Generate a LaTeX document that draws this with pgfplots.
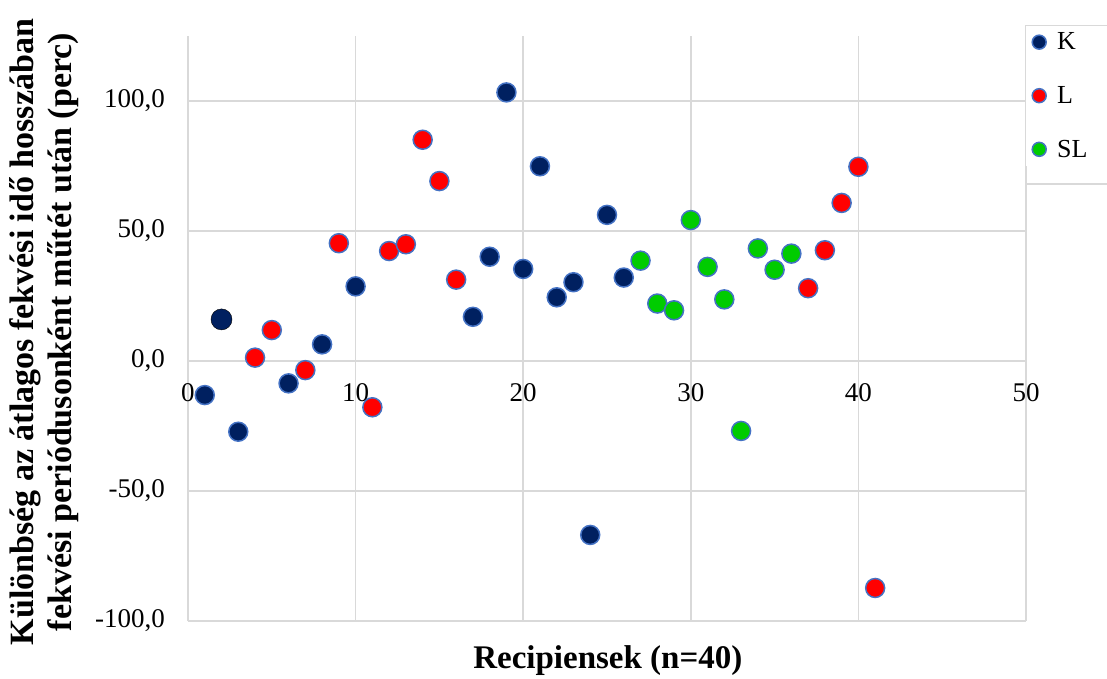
\documentclass[border=0pt]{standalone}
\usepackage{fontspec}
\setmainfont{Liberation Serif}
\usepackage{pgfplots}
\pgfplotsset{compat=1.18}
\definecolor{kcol}{RGB}{0,32,96}
\definecolor{lcol}{RGB}{255,0,0}
\definecolor{slcol}{RGB}{0,204,0}
\definecolor{edge}{RGB}{68,114,196}
\definecolor{gridc}{RGB}{217,217,217}
\begin{document}
\begin{tikzpicture}
\begin{axis}[
  scale only axis, width=838pt, height=585pt,
  xmin=0, xmax=50, ymin=-100, ymax=125,
  xtick={0,10,...,50}, xticklabels={0,10,20,30,40,50},
  ytick={-100,-50,0,50,100},
  yticklabels={{-100,0},{-50,0},{0,0},{50,0},{100,0}},
  grid=major, grid style={gridc, line width=1.5pt},
  axis line style={draw=none},
  major tick length=0pt,
  tick label style={font=\fontsize{27}{30}\selectfont, inner sep=0pt},
  xticklabel style={anchor=center, yshift=228pt},
  yticklabel style={anchor=east, xshift=-23pt},
  xlabel={Recipiensek (n=40)},
  xlabel style={font=\bfseries\fontsize{33}{36}\selectfont,
    at={(axis description cs:0.501,-0.068)}, anchor=center},
  ylabel={Különbség az átlagos fekvési idő hosszában\\fekvési periódusonként műtét után (perc)},
  ylabel style={font=\bfseries\fontsize{34}{38}\selectfont, align=center,
    at={(axis description cs:-0.172,0.494)}, anchor=center},
  clip=false,
  legend style={at={(1.0,1.0176)}, anchor=north west, draw=none,
    font=\fontsize{26}{29}\selectfont, legend cell align=left,
    row sep=31pt, inner xsep=6pt, inner ysep=5pt},
  legend image post style={mark size=7pt},
]
% K
\addplot[only marks, mark=*, mark size=9.5pt,
  mark options={draw=edge, fill=kcol, line width=1.5pt}]
  coordinates {
    (1,-13.1) (3,-27.2) (6,-8.6) (8,6.4) (10,28.7) (17,17.0) (18,40.1)
    (19,103.3) (20,35.4) (21,74.9) (22,24.5) (23,30.3) (24,-66.9)
    (25,56.2) (26,32.1)
  };
% L
\addplot[only marks, mark=*, mark size=9.5pt,
  mark options={draw=edge, fill=lcol, line width=1.5pt}]
  coordinates {
    (4,1.3) (5,11.9) (7,-3.5) (9,45.3) (11,-17.8) (12,42.3) (13,44.9)
    (14,85.1) (15,69.2) (16,31.3) (37,28.0) (38,42.6) (39,60.8)
    (40,74.7) (41,-87.3)
  };
% SL
\addplot[only marks, mark=*, mark size=9.5pt,
  mark options={draw=edge, fill=slcol, line width=1.5pt}]
  coordinates {
    (27,38.6) (28,22.1) (29,19.5) (30,54.2) (31,36.2) (32,23.7)
    (33,-26.9) (34,43.3) (35,35.1) (36,41.3)
  };
% K, recipient 2 (no outline)
\addplot[forget plot, only marks, mark=*, mark size=10.5pt,
  mark options={draw=none, fill=kcol}]
  coordinates {(2,16.0)};
\legend{\hspace*{9pt}K,\hspace*{9pt}L,\hspace*{9pt}SL}
\end{axis}
% legend frame (runs past the right edge, as in the original)
\draw[gridc, line width=1.5pt] (837.7pt,595.3pt) rectangle (1000pt,437pt);
\pgfresetboundingbox
\useasboundingbox (-188pt,-57pt) rectangle (919pt,621pt);
\end{tikzpicture}
\end{document}
